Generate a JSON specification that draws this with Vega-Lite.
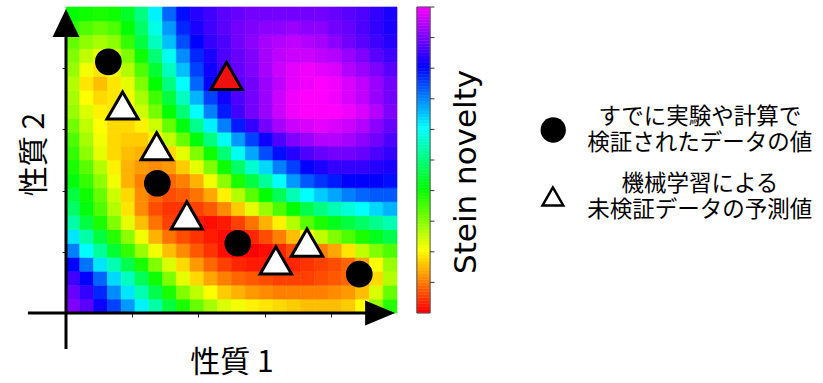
{
"$schema": "https://vega.github.io/schema/vega-lite/v6.json",
"width": 331,
"height": 306,
"autosize": {"type": "none"},
"padding": {"left": 66, "top": 7, "right": 426, "bottom": 70},
"background": "white",
"config": {"view": {"stroke": null}},
"resolve": {"scale": {"x": "independent", "y": "independent"}},
"layer": [
{
"data": {"values": [
{"c":0,"r":0,"v":90},{"c":1,"r":0,"v":87},{"c":2,"r":0,"v":81},{"c":3,"r":0,"v":75},{"c":4,"r":0,"v":68},{"c":5,"r":0,"v":61},{"c":6,"r":0,"v":53},{"c":7,"r":0,"v":45},{"c":8,"r":0,"v":38},{"c":9,"r":0,"v":32},{"c":10,"r":0,"v":27},{"c":11,"r":0,"v":23},{"c":12,"r":0,"v":21},{"c":13,"r":0,"v":19},{"c":14,"r":0,"v":18},{"c":15,"r":0,"v":17},{"c":16,"r":0,"v":16},{"c":17,"r":0,"v":15},{"c":18,"r":0,"v":15},{"c":19,"r":0,"v":15},{"c":20,"r":0,"v":16},{"c":21,"r":0,"v":20},{"c":22,"r":0,"v":28},{"c":23,"r":0,"v":37},
{"c":0,"r":1,"v":88},{"c":1,"r":1,"v":84},{"c":2,"r":1,"v":77},{"c":3,"r":1,"v":69},{"c":4,"r":1,"v":62},{"c":5,"r":1,"v":54},{"c":6,"r":1,"v":46},{"c":7,"r":1,"v":38},{"c":8,"r":1,"v":30},{"c":9,"r":1,"v":25},{"c":10,"r":1,"v":20},{"c":11,"r":1,"v":16},{"c":12,"r":1,"v":14},{"c":13,"r":1,"v":12},{"c":14,"r":1,"v":11},{"c":15,"r":1,"v":10},{"c":16,"r":1,"v":10},{"c":17,"r":1,"v":10},{"c":18,"r":1,"v":10},{"c":19,"r":1,"v":11},{"c":20,"r":1,"v":12},{"c":21,"r":1,"v":15},{"c":22,"r":1,"v":23},{"c":23,"r":1,"v":32},
{"c":0,"r":2,"v":85},{"c":1,"r":2,"v":80},{"c":2,"r":2,"v":72},{"c":3,"r":2,"v":63},{"c":4,"r":2,"v":55},{"c":5,"r":2,"v":47},{"c":6,"r":2,"v":39},{"c":7,"r":2,"v":30},{"c":8,"r":2,"v":22},{"c":9,"r":2,"v":17},{"c":10,"r":2,"v":13},{"c":11,"r":2,"v":10},{"c":12,"r":2,"v":8},{"c":13,"r":2,"v":7},{"c":14,"r":2,"v":6},{"c":15,"r":2,"v":5},{"c":16,"r":2,"v":5},{"c":17,"r":2,"v":5},{"c":18,"r":2,"v":6},{"c":19,"r":2,"v":7},{"c":20,"r":2,"v":8},{"c":21,"r":2,"v":10},{"c":22,"r":2,"v":17},{"c":23,"r":2,"v":26},
{"c":0,"r":3,"v":80},{"c":1,"r":3,"v":71},{"c":2,"r":3,"v":62},{"c":3,"r":3,"v":54},{"c":4,"r":3,"v":46},{"c":5,"r":3,"v":38},{"c":6,"r":3,"v":30},{"c":7,"r":3,"v":23},{"c":8,"r":3,"v":17},{"c":9,"r":3,"v":12},{"c":10,"r":3,"v":8},{"c":11,"r":3,"v":5},{"c":12,"r":3,"v":3},{"c":13,"r":3,"v":2},{"c":14,"r":3,"v":2},{"c":15,"r":3,"v":2},{"c":16,"r":3,"v":3},{"c":17,"r":3,"v":4},{"c":18,"r":3,"v":5},{"c":19,"r":3,"v":6},{"c":20,"r":3,"v":8},{"c":21,"r":3,"v":13},{"c":22,"r":3,"v":20},{"c":23,"r":3,"v":28},
{"c":0,"r":4,"v":70},{"c":1,"r":4,"v":60},{"c":2,"r":4,"v":52},{"c":3,"r":4,"v":44},{"c":4,"r":4,"v":36},{"c":5,"r":4,"v":28},{"c":6,"r":4,"v":21},{"c":7,"r":4,"v":15},{"c":8,"r":4,"v":11},{"c":9,"r":4,"v":7},{"c":10,"r":4,"v":4},{"c":11,"r":4,"v":1},{"c":12,"r":4,"v":0},{"c":13,"r":4,"v":0},{"c":14,"r":4,"v":1},{"c":15,"r":4,"v":3},{"c":16,"r":4,"v":6},{"c":17,"r":4,"v":8},{"c":18,"r":4,"v":10},{"c":19,"r":4,"v":13},{"c":20,"r":4,"v":18},{"c":21,"r":4,"v":25},{"c":22,"r":4,"v":30},{"c":23,"r":4,"v":34},
{"c":0,"r":5,"v":62},{"c":1,"r":5,"v":53},{"c":2,"r":5,"v":45},{"c":3,"r":5,"v":37},{"c":4,"r":5,"v":29},{"c":5,"r":5,"v":21},{"c":6,"r":5,"v":14},{"c":7,"r":5,"v":9},{"c":8,"r":5,"v":6},{"c":9,"r":5,"v":4},{"c":10,"r":5,"v":2},{"c":11,"r":5,"v":1},{"c":12,"r":5,"v":1},{"c":13,"r":5,"v":3},{"c":14,"r":5,"v":6},{"c":15,"r":5,"v":10},{"c":16,"r":5,"v":15},{"c":17,"r":5,"v":20},{"c":18,"r":5,"v":25},{"c":19,"r":5,"v":30},{"c":20,"r":5,"v":34},{"c":21,"r":5,"v":38},{"c":22,"r":5,"v":42},{"c":23,"r":5,"v":46},
{"c":0,"r":6,"v":53},{"c":1,"r":6,"v":45},{"c":2,"r":6,"v":38},{"c":3,"r":6,"v":30},{"c":4,"r":6,"v":22},{"c":5,"r":6,"v":15},{"c":6,"r":6,"v":9},{"c":7,"r":6,"v":5},{"c":8,"r":6,"v":3},{"c":9,"r":6,"v":2},{"c":10,"r":6,"v":1},{"c":11,"r":6,"v":2},{"c":12,"r":6,"v":5},{"c":13,"r":6,"v":9},{"c":14,"r":6,"v":14},{"c":15,"r":6,"v":19},{"c":16,"r":6,"v":26},{"c":17,"r":6,"v":33},{"c":18,"r":6,"v":38},{"c":19,"r":6,"v":42},{"c":20,"r":6,"v":45},{"c":21,"r":6,"v":48},{"c":22,"r":6,"v":51},{"c":23,"r":6,"v":54},
{"c":0,"r":7,"v":48},{"c":1,"r":7,"v":41},{"c":2,"r":7,"v":34},{"c":3,"r":7,"v":26},{"c":4,"r":7,"v":18},{"c":5,"r":7,"v":11},{"c":6,"r":7,"v":6},{"c":7,"r":7,"v":4},{"c":8,"r":7,"v":4},{"c":9,"r":7,"v":5},{"c":10,"r":7,"v":7},{"c":11,"r":7,"v":11},{"c":12,"r":7,"v":16},{"c":13,"r":7,"v":22},{"c":14,"r":7,"v":28},{"c":15,"r":7,"v":34},{"c":16,"r":7,"v":40},{"c":17,"r":7,"v":46},{"c":18,"r":7,"v":50},{"c":19,"r":7,"v":54},{"c":20,"r":7,"v":57},{"c":21,"r":7,"v":60},{"c":22,"r":7,"v":63},{"c":23,"r":7,"v":66},
{"c":0,"r":8,"v":45},{"c":1,"r":8,"v":39},{"c":2,"r":8,"v":32},{"c":3,"r":8,"v":24},{"c":4,"r":8,"v":17},{"c":5,"r":8,"v":11},{"c":6,"r":8,"v":8},{"c":7,"r":8,"v":6},{"c":8,"r":8,"v":7},{"c":9,"r":8,"v":9},{"c":10,"r":8,"v":13},{"c":11,"r":8,"v":19},{"c":12,"r":8,"v":26},{"c":13,"r":8,"v":33},{"c":14,"r":8,"v":40},{"c":15,"r":8,"v":47},{"c":16,"r":8,"v":54},{"c":17,"r":8,"v":60},{"c":18,"r":8,"v":64},{"c":19,"r":8,"v":67},{"c":20,"r":8,"v":70},{"c":21,"r":8,"v":72},{"c":22,"r":8,"v":73},{"c":23,"r":8,"v":73},
{"c":0,"r":9,"v":41},{"c":1,"r":9,"v":36},{"c":2,"r":9,"v":29},{"c":3,"r":9,"v":21},{"c":4,"r":9,"v":14},{"c":5,"r":9,"v":10},{"c":6,"r":9,"v":8},{"c":7,"r":9,"v":8},{"c":8,"r":9,"v":10},{"c":9,"r":9,"v":14},{"c":10,"r":9,"v":21},{"c":11,"r":9,"v":29},{"c":12,"r":9,"v":38},{"c":13,"r":9,"v":45},{"c":14,"r":9,"v":52},{"c":15,"r":9,"v":60},{"c":16,"r":9,"v":68},{"c":17,"r":9,"v":73},{"c":18,"r":9,"v":76},{"c":19,"r":9,"v":78},{"c":20,"r":9,"v":80},{"c":21,"r":9,"v":80},{"c":22,"r":9,"v":80},{"c":23,"r":9,"v":79},
{"c":0,"r":10,"v":38},{"c":1,"r":10,"v":33},{"c":2,"r":10,"v":26},{"c":3,"r":10,"v":19},{"c":4,"r":10,"v":14},{"c":5,"r":10,"v":12},{"c":6,"r":10,"v":11},{"c":7,"r":10,"v":12},{"c":8,"r":10,"v":16},{"c":9,"r":10,"v":22},{"c":10,"r":10,"v":30},{"c":11,"r":10,"v":39},{"c":12,"r":10,"v":48},{"c":13,"r":10,"v":56},{"c":14,"r":10,"v":63},{"c":15,"r":10,"v":70},{"c":16,"r":10,"v":75},{"c":17,"r":10,"v":80},{"c":18,"r":10,"v":82},{"c":19,"r":10,"v":84},{"c":20,"r":10,"v":84},{"c":21,"r":10,"v":84},{"c":22,"r":10,"v":83},{"c":23,"r":10,"v":82},
{"c":0,"r":11,"v":36},{"c":1,"r":11,"v":29},{"c":2,"r":11,"v":22},{"c":3,"r":11,"v":17},{"c":4,"r":11,"v":15},{"c":5,"r":11,"v":14},{"c":6,"r":11,"v":15},{"c":7,"r":11,"v":17},{"c":8,"r":11,"v":22},{"c":9,"r":11,"v":30},{"c":10,"r":11,"v":39},{"c":11,"r":11,"v":49},{"c":12,"r":11,"v":59},{"c":13,"r":11,"v":67},{"c":14,"r":11,"v":74},{"c":15,"r":11,"v":79},{"c":16,"r":11,"v":83},{"c":17,"r":11,"v":86},{"c":18,"r":11,"v":88},{"c":19,"r":11,"v":89},{"c":20,"r":11,"v":89},{"c":21,"r":11,"v":88},{"c":22,"r":11,"v":86},{"c":23,"r":11,"v":84},
{"c":0,"r":12,"v":34},{"c":1,"r":12,"v":27},{"c":2,"r":12,"v":21},{"c":3,"r":12,"v":17},{"c":4,"r":12,"v":16},{"c":5,"r":12,"v":16},{"c":6,"r":12,"v":19},{"c":7,"r":12,"v":25},{"c":8,"r":12,"v":32},{"c":9,"r":12,"v":41},{"c":10,"r":12,"v":50},{"c":11,"r":12,"v":59},{"c":12,"r":12,"v":68},{"c":13,"r":12,"v":75},{"c":14,"r":12,"v":81},{"c":15,"r":12,"v":86},{"c":16,"r":12,"v":90},{"c":17,"r":12,"v":92},{"c":18,"r":12,"v":94},{"c":19,"r":12,"v":94},{"c":20,"r":12,"v":93},{"c":21,"r":12,"v":91},{"c":22,"r":12,"v":89},{"c":23,"r":12,"v":86},
{"c":0,"r":13,"v":31},{"c":1,"r":13,"v":25},{"c":2,"r":13,"v":20},{"c":3,"r":13,"v":17},{"c":4,"r":13,"v":17},{"c":5,"r":13,"v":19},{"c":6,"r":13,"v":24},{"c":7,"r":13,"v":32},{"c":8,"r":13,"v":41},{"c":9,"r":13,"v":51},{"c":10,"r":13,"v":61},{"c":11,"r":13,"v":70},{"c":12,"r":13,"v":78},{"c":13,"r":13,"v":84},{"c":14,"r":13,"v":89},{"c":15,"r":13,"v":93},{"c":16,"r":13,"v":96},{"c":17,"r":13,"v":97},{"c":18,"r":13,"v":98},{"c":19,"r":13,"v":97},{"c":20,"r":13,"v":96},{"c":21,"r":13,"v":94},{"c":22,"r":13,"v":91},{"c":23,"r":13,"v":88},
{"c":0,"r":14,"v":28},{"c":1,"r":14,"v":23},{"c":2,"r":14,"v":19},{"c":3,"r":14,"v":18},{"c":4,"r":14,"v":20},{"c":5,"r":14,"v":24},{"c":6,"r":14,"v":31},{"c":7,"r":14,"v":40},{"c":8,"r":14,"v":49},{"c":9,"r":14,"v":60},{"c":10,"r":14,"v":70},{"c":11,"r":14,"v":78},{"c":12,"r":14,"v":85},{"c":13,"r":14,"v":89},{"c":14,"r":14,"v":92},{"c":15,"r":14,"v":96},{"c":16,"r":14,"v":99},{"c":17,"r":14,"v":100},{"c":18,"r":14,"v":100},{"c":19,"r":14,"v":100},{"c":20,"r":14,"v":99},{"c":21,"r":14,"v":97},{"c":22,"r":14,"v":94},{"c":23,"r":14,"v":90},
{"c":0,"r":15,"v":27},{"c":1,"r":15,"v":20},{"c":2,"r":15,"v":17},{"c":3,"r":15,"v":18},{"c":4,"r":15,"v":21},{"c":5,"r":15,"v":27},{"c":6,"r":15,"v":35},{"c":7,"r":15,"v":45},{"c":8,"r":15,"v":55},{"c":9,"r":15,"v":66},{"c":10,"r":15,"v":75},{"c":11,"r":15,"v":81},{"c":12,"r":15,"v":86},{"c":13,"r":15,"v":89},{"c":14,"r":15,"v":92},{"c":15,"r":15,"v":96},{"c":16,"r":15,"v":99},{"c":17,"r":15,"v":100},{"c":18,"r":15,"v":100},{"c":19,"r":15,"v":99},{"c":20,"r":15,"v":97},{"c":21,"r":15,"v":95},{"c":22,"r":15,"v":92},{"c":23,"r":15,"v":89},
{"c":0,"r":16,"v":26},{"c":1,"r":16,"v":18},{"c":2,"r":16,"v":15},{"c":3,"r":16,"v":18},{"c":4,"r":16,"v":22},{"c":5,"r":16,"v":30},{"c":6,"r":16,"v":40},{"c":7,"r":16,"v":50},{"c":8,"r":16,"v":60},{"c":9,"r":16,"v":72},{"c":10,"r":16,"v":80},{"c":11,"r":16,"v":84},{"c":12,"r":16,"v":87},{"c":13,"r":16,"v":89},{"c":14,"r":16,"v":92},{"c":15,"r":16,"v":95},{"c":16,"r":16,"v":98},{"c":17,"r":16,"v":99},{"c":18,"r":16,"v":100},{"c":19,"r":16,"v":99},{"c":20,"r":16,"v":97},{"c":21,"r":16,"v":95},{"c":22,"r":16,"v":92},{"c":23,"r":16,"v":89},
{"c":0,"r":17,"v":28},{"c":1,"r":17,"v":21},{"c":2,"r":17,"v":18},{"c":3,"r":17,"v":21},{"c":4,"r":17,"v":26},{"c":5,"r":17,"v":34},{"c":6,"r":17,"v":44},{"c":7,"r":17,"v":55},{"c":8,"r":17,"v":65},{"c":9,"r":17,"v":75},{"c":10,"r":17,"v":81},{"c":11,"r":17,"v":85},{"c":12,"r":17,"v":88},{"c":13,"r":17,"v":90},{"c":14,"r":17,"v":93},{"c":15,"r":17,"v":96},{"c":16,"r":17,"v":98},{"c":17,"r":17,"v":99},{"c":18,"r":17,"v":98},{"c":19,"r":17,"v":97},{"c":20,"r":17,"v":94},{"c":21,"r":17,"v":92},{"c":22,"r":17,"v":90},{"c":23,"r":17,"v":87},
{"c":0,"r":18,"v":30},{"c":1,"r":18,"v":25},{"c":2,"r":18,"v":22},{"c":3,"r":18,"v":24},{"c":4,"r":18,"v":30},{"c":5,"r":18,"v":39},{"c":6,"r":18,"v":49},{"c":7,"r":18,"v":59},{"c":8,"r":18,"v":69},{"c":9,"r":18,"v":77},{"c":10,"r":18,"v":82},{"c":11,"r":18,"v":86},{"c":12,"r":18,"v":88},{"c":13,"r":18,"v":90},{"c":14,"r":18,"v":93},{"c":15,"r":18,"v":95},{"c":16,"r":18,"v":96},{"c":17,"r":18,"v":96},{"c":18,"r":18,"v":95},{"c":19,"r":18,"v":94},{"c":20,"r":18,"v":92},{"c":21,"r":18,"v":90},{"c":22,"r":18,"v":87},{"c":23,"r":18,"v":85},
{"c":0,"r":19,"v":32},{"c":1,"r":19,"v":29},{"c":2,"r":19,"v":27},{"c":3,"r":19,"v":29},{"c":4,"r":19,"v":36},{"c":5,"r":19,"v":45},{"c":6,"r":19,"v":55},{"c":7,"r":19,"v":65},{"c":8,"r":19,"v":74},{"c":9,"r":19,"v":80},{"c":10,"r":19,"v":84},{"c":11,"r":19,"v":86},{"c":12,"r":19,"v":89},{"c":13,"r":19,"v":91},{"c":14,"r":19,"v":93},{"c":15,"r":19,"v":94},{"c":16,"r":19,"v":95},{"c":17,"r":19,"v":94},{"c":18,"r":19,"v":93},{"c":19,"r":19,"v":91},{"c":20,"r":19,"v":89},{"c":21,"r":19,"v":87},{"c":22,"r":19,"v":85},{"c":23,"r":19,"v":83},
{"c":0,"r":20,"v":36},{"c":1,"r":20,"v":34},{"c":2,"r":20,"v":32},{"c":3,"r":20,"v":34},{"c":4,"r":20,"v":40},{"c":5,"r":20,"v":48},{"c":6,"r":20,"v":58},{"c":7,"r":20,"v":68},{"c":8,"r":20,"v":77},{"c":9,"r":20,"v":82},{"c":10,"r":20,"v":85},{"c":11,"r":20,"v":87},{"c":12,"r":20,"v":89},{"c":13,"r":20,"v":90},{"c":14,"r":20,"v":91},{"c":15,"r":20,"v":91},{"c":16,"r":20,"v":92},{"c":17,"r":20,"v":91},{"c":18,"r":20,"v":91},{"c":19,"r":20,"v":89},{"c":20,"r":20,"v":88},{"c":21,"r":20,"v":86},{"c":22,"r":20,"v":84},{"c":23,"r":20,"v":82},
{"c":0,"r":21,"v":40},{"c":1,"r":21,"v":39},{"c":2,"r":21,"v":38},{"c":3,"r":21,"v":39},{"c":4,"r":21,"v":43},{"c":5,"r":21,"v":50},{"c":6,"r":21,"v":61},{"c":7,"r":21,"v":72},{"c":8,"r":21,"v":79},{"c":9,"r":21,"v":83},{"c":10,"r":21,"v":85},{"c":11,"r":21,"v":87},{"c":12,"r":21,"v":88},{"c":13,"r":21,"v":89},{"c":14,"r":21,"v":89},{"c":15,"r":21,"v":89},{"c":16,"r":21,"v":89},{"c":17,"r":21,"v":89},{"c":18,"r":21,"v":89},{"c":19,"r":21,"v":88},{"c":20,"r":21,"v":87},{"c":21,"r":21,"v":86},{"c":22,"r":21,"v":84},{"c":23,"r":21,"v":82}
]},
"mark": {"type": "rect", "strokeWidth": 0.6},
"encoding": {
"x": {"field": "c", "type": "ordinal", "axis": null, "scale": {"paddingInner": 0, "paddingOuter": 0}},
"y": {"field": "r", "type": "ordinal", "axis": null, "sort": "descending", "scale": {"paddingInner": 0, "paddingOuter": 0}},
"color": {"field": "v", "type": "quantitative", "legend": null, "scale": {"domain": [0, 20, 40, 60, 80, 100], "range": ["#ff0000", "#ffff00", "#00ff00", "#00ffff", "#0000ff", "#ff00ff"], "interpolate": "rgb"}},
"stroke": {"field": "v", "type": "quantitative", "legend": null, "scale": {"domain": [0, 20, 40, 60, 80, 100], "range": ["#ff0000", "#ffff00", "#00ff00", "#00ffff", "#0000ff", "#ff00ff"], "interpolate": "rgb"}}
}
},
{
"layer": [
{
"data": {"values": [
{"lo":0,"hi":1},{"lo":1,"hi":2},{"lo":2,"hi":3},{"lo":3,"hi":4},{"lo":4,"hi":5},{"lo":5,"hi":6},{"lo":6,"hi":7},{"lo":7,"hi":8},{"lo":8,"hi":9},{"lo":9,"hi":10},
{"lo":10,"hi":11},{"lo":11,"hi":12},{"lo":12,"hi":13},{"lo":13,"hi":14},{"lo":14,"hi":15},{"lo":15,"hi":16},{"lo":16,"hi":17},{"lo":17,"hi":18},{"lo":18,"hi":19},{"lo":19,"hi":20},
{"lo":20,"hi":21},{"lo":21,"hi":22},{"lo":22,"hi":23},{"lo":23,"hi":24},{"lo":24,"hi":25},{"lo":25,"hi":26},{"lo":26,"hi":27},{"lo":27,"hi":28},{"lo":28,"hi":29},{"lo":29,"hi":30},
{"lo":30,"hi":31},{"lo":31,"hi":32},{"lo":32,"hi":33},{"lo":33,"hi":34},{"lo":34,"hi":35},{"lo":35,"hi":36},{"lo":36,"hi":37},{"lo":37,"hi":38},{"lo":38,"hi":39},{"lo":39,"hi":40},
{"lo":40,"hi":41},{"lo":41,"hi":42},{"lo":42,"hi":43},{"lo":43,"hi":44},{"lo":44,"hi":45},{"lo":45,"hi":46},{"lo":46,"hi":47},{"lo":47,"hi":48},{"lo":48,"hi":49},{"lo":49,"hi":50},
{"lo":50,"hi":51},{"lo":51,"hi":52},{"lo":52,"hi":53},{"lo":53,"hi":54},{"lo":54,"hi":55},{"lo":55,"hi":56},{"lo":56,"hi":57},{"lo":57,"hi":58},{"lo":58,"hi":59},{"lo":59,"hi":60},
{"lo":60,"hi":61},{"lo":61,"hi":62},{"lo":62,"hi":63},{"lo":63,"hi":64},{"lo":64,"hi":65},{"lo":65,"hi":66},{"lo":66,"hi":67},{"lo":67,"hi":68},{"lo":68,"hi":69},{"lo":69,"hi":70},
{"lo":70,"hi":71},{"lo":71,"hi":72},{"lo":72,"hi":73},{"lo":73,"hi":74},{"lo":74,"hi":75},{"lo":75,"hi":76},{"lo":76,"hi":77},{"lo":77,"hi":78},{"lo":78,"hi":79},{"lo":79,"hi":80},
{"lo":80,"hi":81},{"lo":81,"hi":82},{"lo":82,"hi":83},{"lo":83,"hi":84},{"lo":84,"hi":85},{"lo":85,"hi":86},{"lo":86,"hi":87},{"lo":87,"hi":88},{"lo":88,"hi":89},{"lo":89,"hi":90},
{"lo":90,"hi":91},{"lo":91,"hi":92},{"lo":92,"hi":93},{"lo":93,"hi":94},{"lo":94,"hi":95},{"lo":95,"hi":96},{"lo":96,"hi":97},{"lo":97,"hi":98},{"lo":98,"hi":99},{"lo":99,"hi":100}
]},
"mark": {"type": "rect", "clip": false, "strokeWidth": 0.5},
"encoding": {
"x": {"datum": 106, "type": "quantitative", "scale": {"domain": [0, 100], "nice": false, "zero": false}},
"x2": {"datum": 110},
"y": {"field": "lo", "type": "quantitative", "scale": {"domain": [0, 100], "nice": false, "zero": false}},
"y2": {"field": "hi"},
"color": {"field": "lo", "type": "quantitative", "legend": null, "scale": {"domain": [0, 20, 40, 60, 80, 100], "range": ["#ff0000", "#ffff00", "#00ff00", "#00ffff", "#0000ff", "#ff00ff"], "interpolate": "rgb"}},
"stroke": {"field": "lo", "type": "quantitative", "legend": null, "scale": {"domain": [0, 20, 40, 60, 80, 100], "range": ["#ff0000", "#ffff00", "#00ff00", "#00ffff", "#0000ff", "#ff00ff"], "interpolate": "rgb"}}
}
},
{
"data": {"values": [{}]},
"mark": {"type": "rect", "clip": false, "fill": null, "fillOpacity": 0, "stroke": "#555555", "strokeWidth": 1},
"encoding": {
"x": {"datum": 106, "type": "quantitative"},
"x2": {"datum": 110},
"y": {"datum": 0, "type": "quantitative"},
"y2": {"datum": 100}
}
},
{
"data": {"values": [{"t":10},{"t":20},{"t":30},{"t":40},{"t":50},{"t":60},{"t":70},{"t":80},{"t":90},{"t":100}]},
"mark": {"type": "rule", "clip": false, "stroke": "#333333", "strokeWidth": 1},
"encoding": {
"x": {"datum": 110, "type": "quantitative"},
"x2": {"datum": 111.3},
"y": {"field": "t", "type": "quantitative"}
}
},
{
"data": {"values": [{}]},
"mark": {"type": "rule", "clip": false, "stroke": "black", "strokeWidth": 3},
"encoding": {
"x": {"datum": -11.5, "type": "quantitative"},
"x2": {"datum": 92},
"y": {"datum": 0, "type": "quantitative"}
}
},
{
"data": {"values": [{}]},
"mark": {"type": "rule", "clip": false, "stroke": "black", "strokeWidth": 3},
"encoding": {
"x": {"datum": 0, "type": "quantitative"},
"y": {"datum": -11.8, "type": "quantitative"},
"y2": {"datum": 92.5}
}
},
{
"data": {"values": [{}]},
"mark": {"type": "point", "clip": false, "filled": true, "color": "black", "opacity": 1, "size": 900, "shape": "M-1,-0.83L1,0L-1,0.83Z"},
"encoding": {
"x": {"datum": 94.9, "type": "quantitative"},
"y": {"datum": 0, "type": "quantitative"}
}
},
{
"data": {"values": [{}]},
"mark": {"type": "point", "clip": false, "filled": true, "color": "black", "opacity": 1, "size": 784, "shape": "M-0.96,1L0,-1L0.96,1Z"},
"encoding": {
"x": {"datum": 0, "type": "quantitative"},
"y": {"datum": 94.8, "type": "quantitative"}
}
},
{
"data": {"values": [
{"px":12.8,"py":82.1,"kind":"verified"},{"px":27.6,"py":42.4,"kind":"verified"},{"px":51.9,"py":22.8,"kind":"verified"},{"px":88.6,"py":12.7,"kind":"verified"},
{"px":17.1,"py":67.8,"kind":"predicted"},{"px":27.4,"py":54.5,"kind":"predicted"},{"px":36.5,"py":31.9,"kind":"predicted"},{"px":63.4,"py":17.2,"kind":"predicted"},{"px":72.8,"py":23.0,"kind":"predicted"},
{"px":48.5,"py":77.5,"kind":"proposed"}
]},
"layer": [
{
"transform": [{"filter": "datum.kind === 'verified'"}],
"mark": {"type": "point", "clip": false, "shape": "circle", "filled": true, "color": "black", "opacity": 1, "size": 713},
"encoding": {
"x": {"field": "px", "type": "quantitative", "scale": {"domain": [0, 100], "nice": false, "zero": false},
"axis": {"orient": "bottom", "title": "性質 1", "values": [20, 40, 60, 80], "labels": false, "domain": false, "grid": false, "ticks": true, "tickSize": 4, "tickWidth": 1, "tickColor": "#222222", "titleFont": "Noto Sans CJK JP", "titleFontSize": 30, "titleFontWeight": "normal", "titleColor": "black", "titlePadding": 30}},
"y": {"field": "py", "type": "quantitative", "scale": {"domain": [0, 100], "nice": false, "zero": false},
"axis": {"orient": "left", "title": "性質 2", "values": [20, 40, 60, 80], "labels": false, "domain": false, "grid": false, "ticks": true, "tickSize": 4, "tickWidth": 1, "tickColor": "#222222", "titleFont": "Noto Sans CJK JP", "titleFontSize": 30, "titleFontWeight": "normal", "titleColor": "black", "titlePadding": 12, "titleY": 147}}
}
},
{
"transform": [{"filter": "datum.kind !== 'verified'"}],
"mark": {"type": "point", "clip": false, "shape": "triangle-up", "filled": true, "stroke": "black", "strokeWidth": 3, "opacity": 1, "size": 980},
"encoding": {
"x": {"field": "px", "type": "quantitative"},
"y": {"field": "py", "type": "quantitative"},
"fill": {"field": "kind", "type": "nominal", "legend": null, "scale": {"domain": ["predicted", "proposed"], "range": ["#ffffff", "#f01010"]}}
}
}
]
},
{
"data": {"values": [{"kind": "verified"}]},
"mark": {"type": "point", "clip": false, "shape": "circle", "filled": true, "color": "black", "opacity": 1, "size": 640},
"encoding": {
"x": {"datum": 147.2, "type": "quantitative"},
"y": {"datum": 59.8, "type": "quantitative"}
}
},
{
"data": {"values": [{"kind": "predicted"}]},
"mark": {"type": "point", "clip": false, "shape": "triangle-up", "filled": true, "fill": "white", "stroke": "black", "strokeWidth": 2.5, "opacity": 1, "size": 430},
"encoding": {
"x": {"datum": 147.1, "type": "quantitative"},
"y": {"datum": 38.1, "type": "quantitative"}
}
},
{
"data": {"values": [{"label": ["すでに実験や計算で", "検証されたデータの値"]}]},
"mark": {"type": "text", "clip": false, "align": "center", "baseline": "middle", "lineHeight": 26, "font": "Noto Sans CJK JP", "fontSize": 22.5, "color": "black"},
"encoding": {
"x": {"datum": 191.5, "type": "quantitative"},
"y": {"datum": 63.9, "type": "quantitative"},
"text": {"field": "label"}
}
},
{
"data": {"values": [{"label": ["機械学習による", "未検証データの予測値"]}]},
"mark": {"type": "text", "clip": false, "align": "center", "baseline": "middle", "lineHeight": 26, "font": "Noto Sans CJK JP", "fontSize": 22.5, "color": "black"},
"encoding": {
"x": {"datum": 191.5, "type": "quantitative"},
"y": {"datum": 42.3, "type": "quantitative"},
"text": {"field": "label"}
}
},
{
"data": {"values": [{"label": "Stein novelty"}]},
"mark": {"type": "text", "clip": false, "align": "center", "baseline": "alphabetic", "angle": 270, "font": "DejaVu Sans", "fontSize": 31, "color": "black"},
"encoding": {
"x": {"datum": 123.9, "type": "quantitative"},
"y": {"datum": 46.1, "type": "quantitative"},
"text": {"field": "label"}
}
}
]
}
]
}
